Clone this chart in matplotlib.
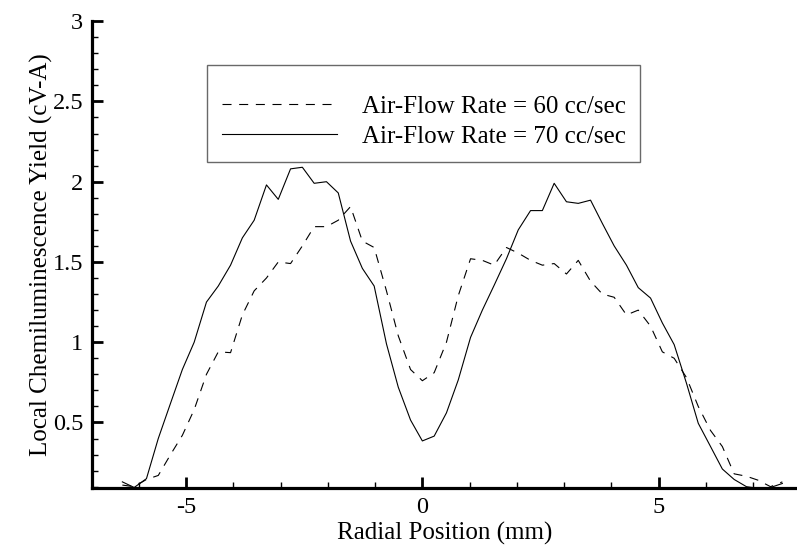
import matplotlib
matplotlib.use("Agg")
import matplotlib.pyplot as plt
from matplotlib.ticker import MultipleLocator, FuncFormatter

# fonte tipo Times, e hifen simples nos negativos
plt.rcParams["font.family"] = "Liberation Serif"
plt.rcParams["axes.unicode_minus"] = False
plt.rcParams["lines.scale_dashes"] = False

# 1) Dados
radial_mm = [-6.35, -6.10, -5.84, -5.59, -5.33, -5.08, -4.83, -4.57, -4.32, -4.06,
             -3.81, -3.56, -3.30, -3.05, -2.79, -2.54, -2.29, -2.03, -1.78, -1.52,
             -1.27, -1.02, -0.76, -0.51, -0.25, 0.00, 0.25, 0.51, 0.76, 1.02,
             1.27, 1.52, 1.78, 2.03, 2.29, 2.54, 2.79, 3.05, 3.30, 3.56,
             3.81, 4.06, 4.32, 4.57, 4.83, 5.08, 5.33, 5.59, 5.84, 6.10,
             6.35, 6.60, 6.86, 7.11, 7.37, 7.62]

yield_60 = [0.11, 0.10, 0.145, 0.17, 0.30, 0.42, 0.58, 0.80, 0.94, 0.935,
            1.17, 1.32, 1.40, 1.50, 1.49, 1.60, 1.72, 1.72, 1.76, 1.845,
            1.63, 1.59, 1.32, 1.04, 0.83, 0.76, 0.81, 1.00, 1.29, 1.52,
            1.51, 1.48, 1.59, 1.555, 1.51, 1.48, 1.49, 1.425, 1.51, 1.38,
            1.30, 1.28, 1.17, 1.20, 1.10, 0.94, 0.90, 0.78, 0.60, 0.45,
            0.35, 0.18, 0.165, 0.14, 0.10, 0.13]

yield_70 = [0.13, 0.095, 0.15, 0.40, 0.62, 0.83, 1.00, 1.25, 1.35, 1.48,
            1.65, 1.76, 1.98, 1.89, 2.08, 2.09, 1.99, 2.00, 1.93, 1.63,
            1.46, 1.35, 0.99, 0.72, 0.515, 0.385, 0.415, 0.56, 0.765, 1.03,
            1.20, 1.355, 1.52, 1.70, 1.82, 1.82, 1.99, 1.875, 1.865, 1.885,
            1.74, 1.60, 1.48, 1.34, 1.275, 1.12, 0.985, 0.745, 0.495, 0.35,
            0.21, 0.145, 0.10, 0.09, 0.095, 0.12]

labels = ["Air-Flow Rate = 60 cc/sec", "Air-Flow Rate = 70 cc/sec"]

# 2) Figura
fig = plt.figure(figsize=(7.97, 5.46), dpi=100)
ax = fig.add_axes([0.115, 0.1057, 0.885, 0.8555])

ax.plot(radial_mm, yield_60, color="black", lw=0.8, dashes=(6.5, 5.5), label=labels[0])
ax.plot(radial_mm, yield_70, color="black", lw=0.8, label=labels[1])

ax.set_xlim(-7, 7.93)
ax.set_ylim(0.09, 3.0)

# eixos: so esquerda e baixo, grossos
for s in ["top", "right"]:
    ax.spines[s].set_visible(False)
for s in ["left", "bottom"]:
    ax.spines[s].set_linewidth(2.3)

ax.xaxis.set_major_locator(MultipleLocator(5))
ax.xaxis.set_minor_locator(MultipleLocator(1))
ax.yaxis.set_major_locator(MultipleLocator(0.5))
ax.yaxis.set_minor_locator(MultipleLocator(0.1))
ax.yaxis.set_major_formatter(FuncFormatter(lambda v, p: f"{v:g}"))
ax.xaxis.set_major_formatter(FuncFormatter(lambda v, p: f"{v:g}"))

ax.tick_params(which="major", direction="in", length=8, width=2, labelsize=17.5, pad=6)
ax.tick_params(which="minor", direction="in", length=4.5, width=1)
ax.tick_params(top=False, right=False, which="both")

ax.set_xlabel("Radial Position (mm)", fontsize=18, labelpad=3)
ax.set_ylabel("Local Chemiluminescence Yield (cV-A)", fontsize=18, labelpad=0)

leg = ax.legend(loc="upper left", bbox_to_anchor=(0.164, 0.906), borderaxespad=0,
                fontsize=18, handlelength=4.6, handletextpad=1.0, labelspacing=0.3,
                borderpad=0.58, fancybox=False, frameon=True,
                title=" ", title_fontsize=6)
leg.get_frame().set_edgecolor("#444444")
leg.get_frame().set_linewidth(1.0)

plt.savefig("out.png", dpi=100)
plt.close(fig)
